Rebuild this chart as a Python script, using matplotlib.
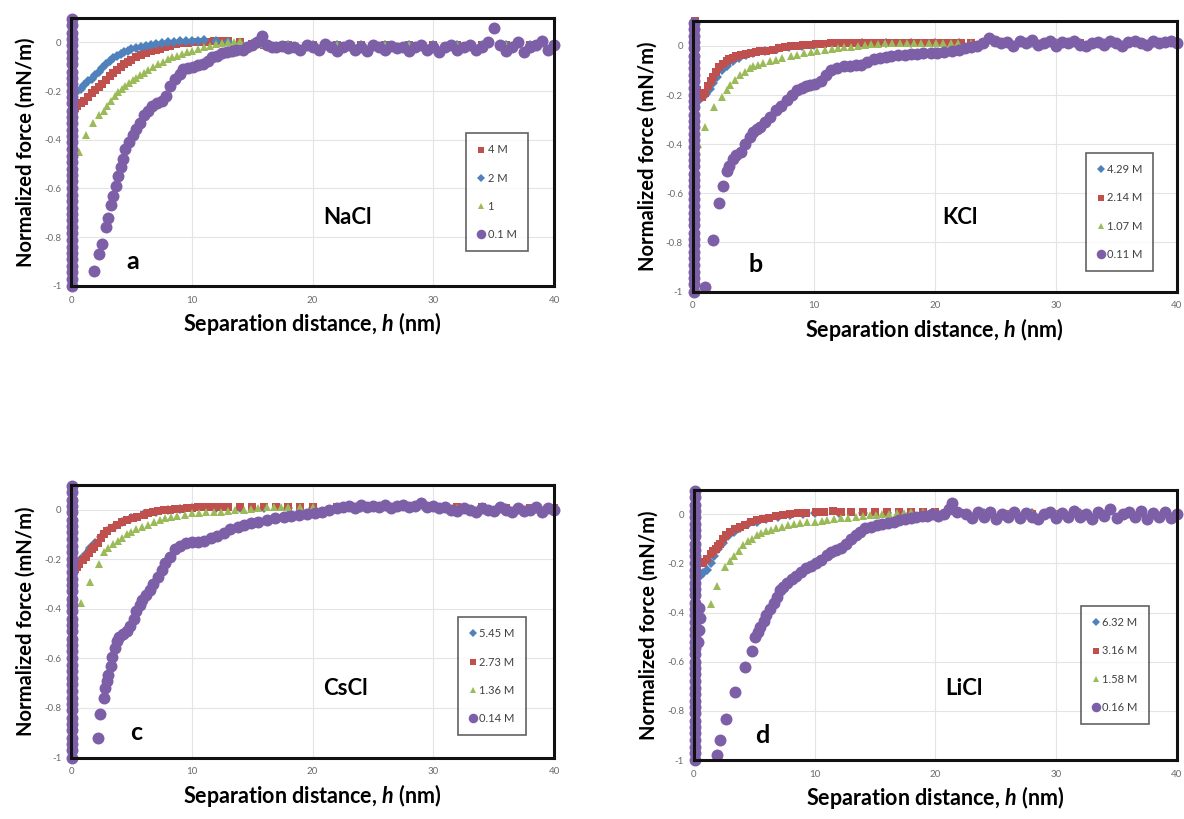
import numpy as np
import matplotlib
matplotlib.use("Agg")
import matplotlib.pyplot as plt

plt.rcParams['font.family'] = ['Lato', 'DejaVu Sans']
plt.rcParams['axes.unicode_minus'] = False
plt.rcParams['mathtext.fontset'] = 'custom'
plt.rcParams['mathtext.it'] = 'Lato:italic:bold'
plt.rcParams['mathtext.rm'] = 'Lato:bold'

PURPLE = '#7d5fa8'
RED = '#c0504d'
BLUE = '#4f81bd'
GREEN = '#9bbb59'

# purple points piled up at contact (h ~ 0), same in every panel
wall_f = [-1.0, -0.97, -0.945, -0.92, -0.89, -0.865, -0.84, -0.81, -0.785, -0.76,
          -0.73, -0.705, -0.68, -0.65, -0.625, -0.6, -0.57, -0.545, -0.52, -0.49,
          -0.465, -0.44, -0.41, -0.385, -0.36, -0.33, -0.305, -0.28, -0.25, -0.225,
          -0.2, -0.17, -0.145, -0.12, -0.09, -0.065, -0.04, -0.01, 0.015, 0.04,
          0.07, 0.095]
wall_h = 0.1

# ---------------- a: NaCl ----------------
a_labels = ['4 M', '2 M', '1', '0.1 M']
a_red_h = [0.3, 0.5, 0.8, 1.1, 1.4, 1.7, 2.0, 2.3, 2.6, 2.9, 3.2, 3.5, 3.8, 4.1, 4.4, 4.7, 5.0, 5.4, 5.8, 6.2,
           6.6, 7.0, 7.4, 7.8, 8.2, 8.7, 9.2, 9.7, 10.2, 10.7, 11.2, 11.8, 12.4, 13.0, 14, 15, 16, 18, 20, 22,
           24, 26, 28, 30, 32, 34, 36, 38, 40]
a_red_f = [-0.27, -0.26, -0.25, -0.24, -0.225, -0.21, -0.195, -0.185, -0.17, -0.155,
           -0.14, -0.125, -0.112, -0.10, -0.09, -0.08, -0.072, -0.062, -0.052, -0.044,
           -0.037, -0.031, -0.026, -0.02, -0.014, -0.008, -0.004, -0.001, 0.0, 0.002,
           0.003, 0.004, 0.005, 0.005, 0.0, -0.005, -0.01, -0.01, -0.01, -0.01,
           -0.01, -0.01, -0.01, -0.01, -0.01, -0.01, -0.01, -0.01, -0.01]
a_blue_h = [0.3, 0.5, 0.8, 1.1, 1.4, 1.7, 2.0, 2.3, 2.6, 2.9, 3.2, 3.5, 3.8, 4.1, 4.4, 4.7, 5.0, 5.4, 5.8, 6.2,
            6.6, 7.0, 7.5, 8.0, 8.5, 9.0, 9.5, 10.0, 10.5, 11.0, 12, 13, 14, 16, 18, 20, 22, 24, 26, 28,
            30, 32, 34, 36, 38, 40]
a_blue_f = [-0.21, -0.20, -0.19, -0.175, -0.16, -0.15, -0.135, -0.12, -0.105, -0.09,
            -0.075, -0.065, -0.055, -0.046, -0.04, -0.034, -0.029, -0.024, -0.018, -0.013,
            -0.009, -0.006, -0.003, 0.0, 0.002, 0.004, 0.005, 0.006, 0.007, 0.008,
            0.006, 0.0, -0.005, -0.01, -0.01, -0.01, -0.01, -0.01, -0.01, -0.01,
            -0.01, -0.01, -0.01, -0.01, -0.01, -0.01]
a_green_h = [0.7, 1.2, 1.8, 2.3, 2.7, 3.0, 3.3, 3.6, 3.9, 4.2, 4.5, 4.8, 5.1, 5.4, 5.7, 6.0, 6.4, 6.8, 7.2, 7.6,
             8.0, 8.4, 8.8, 9.2, 9.6, 10.0, 10.5, 11.0, 11.5, 12.0, 12.5, 13.0, 13.5, 14.0, 15, 16, 18, 20, 22, 24,
             26, 28, 30, 32, 34, 36, 38, 40]
a_green_f = [-0.45, -0.38, -0.33, -0.30, -0.28, -0.26, -0.24, -0.22, -0.205, -0.19,
             -0.18, -0.165, -0.155, -0.145, -0.135, -0.125, -0.115, -0.10, -0.09, -0.08,
             -0.07, -0.062, -0.055, -0.048, -0.04, -0.035, -0.028, -0.02, -0.015, -0.008,
             -0.003, 0.0, 0.003, 0.005, 0.0, -0.005, -0.01, -0.01, -0.01, -0.01,
             -0.01, -0.01, -0.01, -0.01, -0.01, -0.01, -0.01, -0.01]
a_purple_h = [1.9, 2.3, 2.6, 2.9, 3.1, 3.3, 3.5, 3.7, 3.9, 4.1, 4.3, 4.5, 4.8, 5.1, 5.4, 5.7, 6.0, 6.4, 6.7, 7.1,
              7.5, 7.9, 8.2, 8.6, 9.0, 9.3, 9.7, 10.1, 10.5, 10.9, 11.3, 11.7, 12.1, 12.5, 12.9, 13.3, 13.7, 14.2, 14.6, 15.0,
              15.4, 15.8, 16.2, 16.6, 17.0,
              17.5, 18, 18.5, 19, 19.5, 20, 20.5, 21, 21.5, 22, 22.5, 23, 23.5, 24, 24.5, 25, 25.5, 26, 26.5, 27,
              27.5, 28, 28.5, 29, 29.5, 30, 30.5, 31, 31.5, 32, 32.5, 33, 33.5, 34, 34.5, 35, 35.5, 36, 36.5, 37,
              37.5, 38, 38.5, 39, 39.5, 40]
a_purple_f = [-0.94, -0.87, -0.83, -0.76, -0.72, -0.67, -0.63, -0.59, -0.55, -0.51,
              -0.48, -0.44, -0.41, -0.38, -0.355, -0.33, -0.30, -0.28, -0.26, -0.25,
              -0.24, -0.22, -0.18, -0.15, -0.13, -0.11, -0.105, -0.10, -0.095, -0.09,
              -0.075, -0.06, -0.055, -0.045, -0.04, -0.035, -0.03, -0.03, -0.02, -0.01,
              0.0, 0.025, -0.01, -0.02, -0.02,
              -0.015, -0.025, -0.02, -0.03, -0.01, -0.02, -0.03, -0.005, -0.02, -0.035,
              -0.02, -0.01, -0.03, -0.02, -0.035, -0.01, -0.02, -0.03, -0.015, -0.025,
              -0.02, -0.035, -0.02, -0.01, -0.03, -0.02, -0.04, -0.02, -0.01, -0.03,
              -0.02, -0.01, -0.03, -0.02, 0.0, 0.06, -0.01, -0.035, -0.02, 0.0,
              -0.04, -0.02, -0.01, 0.005, -0.03, -0.01]

# ---------------- b: KCl ----------------
b_labels = ['4.29 M', '2.14 M', '1.07 M', '0.11 M']
b_blue_h = [0.5, 0.8, 1.1, 1.4, 1.7, 2.0, 2.4, 2.8, 3.3, 3.8, 4.4, 5.0, 6, 7, 8, 9, 10, 12, 14, 16,
            18, 20, 22, 24, 26, 28, 30, 32, 34, 36, 38, 40]
b_blue_f = [-0.22, -0.21, -0.195, -0.175, -0.15, -0.125, -0.10, -0.08, -0.062, -0.05,
            -0.038, -0.03, -0.02, -0.012, -0.005, 0.0, 0.005, 0.008, 0.01, 0.01,
            0.01, 0.01, 0.01, 0.01, 0.01, 0.01, 0.01, 0.01, 0.01, 0.01, 0.01, 0.01]
b_red_h = [0.2, 0.2, 0.2, 0.2, 0.3, 0.4, 0.6, 0.8, 1.0, 1.25, 1.5, 1.7, 1.95, 2.2, 2.5, 2.8, 3.0, 3.3, 3.6, 4.0,
           4.4, 4.8, 5.2, 5.6, 6.1, 6.6, 7.1, 7.6, 8.1, 8.6, 9.1, 9.6, 10.2, 10.8, 11.4, 12.0, 12.6, 13.2, 13.8, 14.4,
           15.0, 15.6, 16.2, 16.8, 17.4, 18.0, 18.6, 19.2, 19.8, 20.4, 21.0, 21.6, 22.2, 23, 24, 26, 28, 30, 32, 34,
           36, 38, 40]
b_red_f = [0.1, 0.05, 0.0, -0.05, -0.12, -0.18, -0.20, -0.21, -0.19, -0.165,
           -0.145, -0.125, -0.105, -0.085, -0.075, -0.062, -0.055, -0.048, -0.043, -0.036,
           -0.032, -0.028, -0.025, -0.022, -0.02, -0.015, -0.01, -0.006, -0.002, 0.0,
           0.003, 0.005, 0.008, 0.009, 0.01, 0.01, 0.012, 0.01, 0.012, 0.01,
           0.012, 0.01, 0.012, 0.01, 0.012, 0.01, 0.012, 0.01, 0.012, 0.01,
           0.012, 0.01, 0.012, 0.01, 0.01, 0.01, 0.01, 0.01, 0.01, 0.01,
           0.01, 0.01, 0.01]
b_green_h = [0.45, 1.0, 1.8, 2.4, 2.8, 3.1, 3.5, 3.9, 4.3, 4.7, 5.0, 5.4, 5.8, 6.4, 6.9, 7.4, 8.1, 8.6, 9.2, 9.8,
             10.3, 10.9, 11.5, 12.0, 12.5, 13.1, 13.7, 14.2, 14.7, 15.3, 15.9, 16.5, 17.1, 17.7, 18.3, 18.9, 19.5, 20.1, 20.7, 21.3,
             21.9, 23, 24, 26, 28, 30, 32, 34, 36, 38, 40]
b_green_f = [-0.40, -0.33, -0.25, -0.21, -0.18, -0.16, -0.14, -0.12, -0.105, -0.092,
             -0.083, -0.076, -0.07, -0.062, -0.056, -0.05, -0.04, -0.036, -0.03, -0.025,
             -0.02, -0.016, -0.012, -0.008, -0.006, -0.003, 0.0, 0.003, 0.006, 0.008,
             0.01, 0.012, 0.012, 0.012, 0.012, 0.012, 0.012, 0.012, 0.012, 0.012,
             0.012, 0.012, 0.012, 0.01, 0.01, 0.01, 0.01, 0.01, 0.01, 0.01, 0.01]
b_purple_h = [1.0, 1.7, 2.2, 2.5, 2.8, 3.0, 3.3, 3.6, 4.0, 4.3, 4.7, 5.0, 5.3, 5.6, 6.0, 6.4, 6.9, 7.3, 7.8, 8.2,
              8.6, 9.0, 9.4, 9.7, 10.1, 10.6, 11.0, 11.4, 11.9, 12.5, 13.0, 13.5, 13.9, 14.4, 15.0, 15.5, 16.0, 16.4, 17.0, 17.5,
              18.0, 18.5, 19.0, 19.7, 20.2, 20.8, 21.4, 22.0, 22.5, 23.0, 23.5, 24.0, 24.5,
              25, 25.5, 26, 26.5, 27, 27.5, 28, 28.5, 29, 29.5, 30, 30.5, 31, 31.5, 32, 32.5, 33, 33.5, 34, 34.5,
              35, 35.5, 36, 36.5, 37, 37.5, 38, 38.5, 39, 39.5, 40]
b_purple_f = [-0.98, -0.79, -0.64, -0.57, -0.51, -0.49, -0.46, -0.445, -0.43, -0.40,
              -0.37, -0.35, -0.34, -0.33, -0.31, -0.29, -0.26, -0.245, -0.22, -0.20,
              -0.18, -0.17, -0.165, -0.16, -0.155, -0.145, -0.12, -0.10, -0.09, -0.08,
              -0.08, -0.077, -0.076, -0.066, -0.055, -0.05, -0.045, -0.04, -0.038, -0.036,
              -0.035, -0.033, -0.03, -0.03, -0.028, -0.025, -0.02, -0.015, -0.008, -0.005,
              0.0, 0.01, 0.03,
              0.02, 0.01, 0.015, 0.0, 0.02, 0.01, 0.025, 0.005, 0.01, 0.02,
              0.0, 0.015, 0.01, 0.02, 0.005, 0.0, 0.01, 0.015, 0.005, 0.02,
              0.01, 0.0, 0.015, 0.02, 0.01, 0.005, 0.02, 0.01, 0.015, 0.02, 0.01]

# ---------------- c: CsCl ----------------
c_labels = ['5.45 M', '2.73 M', '1.36 M', '0.14 M']
c_blue_h = [0.4, 0.8, 1.2, 1.6, 2.0, 2.5, 3.0, 3.6, 4.2, 5.0, 6.0, 7.0, 8.0, 9.0, 10, 12, 14, 16, 18, 20,
            24, 28, 32, 36, 40]
c_blue_f = [-0.22, -0.2, -0.18, -0.155, -0.135, -0.11, -0.085, -0.065, -0.048, -0.033,
            -0.018, -0.008, -0.002, 0.003, 0.006, 0.008, 0.008, 0.008, 0.008, 0.008,
            0.008, 0.008, 0.005, 0.005, 0.005]
c_red_h = [0.3, 0.5, 0.7, 0.95, 1.2, 1.45, 1.7, 1.9, 2.2, 2.5, 2.7, 3.0, 3.4, 3.8, 4.2, 4.6, 5.1, 5.5, 6.0, 6.4,
           6.8, 7.2, 7.7, 8.2, 8.6, 9.1, 9.6, 10.0, 10.5, 11.0, 11.5, 12.0, 12.5, 13, 14, 15, 16, 17, 18, 19,
           20, 22, 24, 26, 28, 30, 32, 34, 36, 38, 40]
c_red_f = [-0.24, -0.23, -0.22, -0.205, -0.19, -0.175, -0.16, -0.15, -0.135, -0.115,
           -0.10, -0.088, -0.075, -0.06, -0.05, -0.043, -0.035, -0.028, -0.02, -0.015,
           -0.01, -0.006, -0.003, 0.0, 0.002, 0.004, 0.006, 0.008, 0.01, 0.01,
           0.01, 0.012, 0.01, 0.012, 0.01, 0.012, 0.01, 0.012, 0.01, 0.01,
           0.01, 0.01, 0.01, 0.01, 0.01, 0.01, 0.01, 0.01, 0.005, 0.005, 0.005]
c_green_h = [0.8, 1.6, 2.3, 2.7, 3.1, 3.5, 3.9, 4.2, 4.6, 5.0, 5.4, 5.9, 6.4, 6.9, 7.4, 7.8, 8.3, 8.8, 9.4, 10.0,
             10.6, 11.2, 11.8, 12.4, 13.0, 13.6, 14.3, 14.9, 15.5, 16.2, 16.8, 17.4, 18.0, 19, 20, 22, 24, 26, 28, 30,
             32, 34, 36, 38, 40]
c_green_f = [-0.375, -0.29, -0.22, -0.17, -0.155, -0.14, -0.125, -0.115, -0.10, -0.09,
             -0.08, -0.07, -0.06, -0.05, -0.042, -0.035, -0.03, -0.025, -0.02, -0.015,
             -0.013, -0.011, -0.01, -0.008, -0.005, -0.002, 0.0, 0.003, 0.006, 0.01,
             0.012, 0.012, 0.012, 0.01, 0.01, 0.01, 0.01, 0.01, 0.01, 0.01,
             0.005, 0.005, 0.005, 0.005, 0.005]
c_purple_h = [2.2, 2.4, 2.7, 2.8, 3.0, 3.1, 3.3, 3.4, 3.6, 3.8, 4.0, 4.3, 4.6, 4.9, 5.2, 5.4, 5.7, 5.9, 6.2, 6.5,
              6.8, 7.2, 7.5, 7.8, 8.2, 8.6, 9.0, 9.5, 10.0, 10.5, 11.0, 11.6, 12.1, 12.7, 13.2, 13.8, 14.3, 14.9, 15.5, 16.2,
              16.9, 17.6, 18.2, 18.9, 19.5, 20.2, 20.8, 21.4, 22.0,
              22.5, 23, 23.5, 24, 24.5, 25, 25.5, 26, 26.5, 27, 27.5, 28, 28.5, 29, 29.5, 30, 30.5, 31, 31.5, 32,
              32.5, 33, 33.5, 34, 34.5, 35, 35.5, 36, 36.5, 37, 37.5, 38, 38.5, 39, 39.5, 40]
c_purple_f = [-0.92, -0.825, -0.76, -0.72, -0.69, -0.665, -0.63, -0.595, -0.56, -0.53,
              -0.515, -0.50, -0.49, -0.47, -0.44, -0.41, -0.385, -0.365, -0.345, -0.325,
              -0.30, -0.27, -0.245, -0.215, -0.19, -0.16, -0.145, -0.135, -0.13, -0.13,
              -0.125, -0.115, -0.105, -0.095, -0.08, -0.068, -0.06, -0.055, -0.05, -0.04,
              -0.035, -0.03, -0.025, -0.02, -0.018, -0.015, -0.008, 0.0, 0.005,
              0.01, 0.015, 0.005, 0.02, 0.01, 0.015, 0.01, 0.02, 0.005, 0.015,
              0.02, 0.01, 0.015, 0.025, 0.01, 0.015, 0.005, 0.01, 0.0, -0.005,
              0.005, 0.0, -0.01, 0.005, 0.0, -0.005, 0.01, 0.0, -0.01, 0.005,
              -0.005, 0.0, 0.01, -0.01, 0.005, 0.0]

# ---------------- d: LiCl ----------------
d_labels = ['6.32 M', '3.16 M', '1.58 M', '0.16 M']
d_blue_h = [0.3, 0.5, 0.8, 1.1, 1.4, 1.7, 2.0, 2.4, 2.8, 3.3, 3.8, 4.5, 5.2, 6, 7, 8, 9, 10, 12, 14,
            16, 18, 20, 24, 28, 32, 36, 40]
d_blue_f = [-0.26, -0.25, -0.24, -0.225, -0.2, -0.17, -0.14, -0.115, -0.09, -0.07,
            -0.055, -0.04, -0.03, -0.02, -0.01, -0.004, 0.0, 0.004, 0.006, 0.006,
            0.006, 0.006, 0.006, 0.006, 0.006, 0.006, 0.006, 0.006]
d_red_h = [0.3, 0.55, 0.8, 1.1, 1.4, 1.6, 1.8, 2.0, 2.2, 2.45, 2.7, 3.0, 3.4, 3.8, 4.2, 4.7, 5.2, 5.7, 6.2, 6.8,
           7.4, 8.0, 8.6, 9.3, 10.1, 10.8, 11.5, 12.2, 13, 14, 15, 16, 17, 18, 19, 20, 22, 24, 26, 28,
           30, 32, 34, 36, 38, 40]
d_red_f = [-0.21, -0.195, -0.2, -0.18, -0.16, -0.15, -0.14, -0.13, -0.12, -0.1,
           -0.085, -0.073, -0.06, -0.05, -0.042, -0.033, -0.025, -0.019, -0.014, -0.008,
           -0.003, 0.0, 0.004, 0.007, 0.01, 0.01, 0.012, 0.01, 0.01, 0.01,
           0.01, 0.01, 0.01, 0.01, 0.01, 0.01, 0.005, 0.0, 0.0, 0.0,
           0.0, 0.0, 0.0, 0.0, 0.0, 0.0]
d_green_h = [1.4, 1.9, 2.6, 3.0, 3.3, 3.7, 4.1, 4.5, 4.8, 5.2, 5.6, 6.0, 6.4, 6.8, 7.3, 7.8, 8.3, 8.8, 9.4, 10.0,
             10.6, 11.0, 11.6, 12.2, 12.8, 13.4, 14.0, 14.6, 15.1, 15.6, 16.2, 16.8, 17.4, 18.0, 19, 20, 22, 24, 26, 28,
             30, 32, 34, 36, 38, 40]
d_green_f = [-0.365, -0.29, -0.215, -0.19, -0.17, -0.15, -0.125, -0.11, -0.1, -0.085,
             -0.075, -0.068, -0.062, -0.055, -0.05, -0.045, -0.04, -0.037, -0.033, -0.03,
             -0.027, -0.023, -0.02, -0.016, -0.013, -0.01, -0.007, -0.004, -0.002, 0.0,
             0.003, 0.005, 0.007, 0.008, 0.008, 0.008, 0.004, 0.0, 0.0, 0.0,
             0.0, 0.0, 0.0, 0.0, 0.0, 0.0]
d_purple_h = [0.4, 0.5, 0.45, 0.35,
              1.9, 2.2, 2.7, 3.4, 4.2, 4.8, 5.1, 5.3, 5.5, 5.8, 6.0, 6.3, 6.6, 6.9, 7.1, 7.4, 7.7, 8.1, 8.5, 8.9,
              9.3, 9.7, 10.1, 10.5, 11.0, 11.4, 11.8, 12.2, 12.6, 13.0, 13.4, 13.8, 14.2, 14.7, 15.2, 15.6, 16.1, 16.6, 17.0, 17.5,
              18.0, 18.4, 18.9, 19.3, 19.7, 20.2, 20.7, 21.1, 21.4, 21.8,
              22.5, 23, 23.5, 24, 24.5, 25, 25.5, 26, 26.5, 27, 27.5, 28, 28.5, 29, 29.5, 30, 30.5, 31, 31.5, 32,
              32.5, 33, 33.5, 34, 34.5, 35, 35.5, 36, 36.5, 37, 37.5, 38, 38.5, 39, 39.5, 40]
d_purple_f = [-0.38, -0.42, -0.47, -0.52,
              -0.98, -0.92, -0.835, -0.725, -0.62, -0.555, -0.50, -0.48, -0.46, -0.435,
              -0.41, -0.385, -0.36, -0.335, -0.31, -0.295, -0.28, -0.265, -0.25, -0.235,
              -0.22, -0.21, -0.20, -0.185, -0.165, -0.155, -0.145, -0.135, -0.12, -0.10,
              -0.085, -0.07, -0.057, -0.05, -0.044, -0.04, -0.035, -0.03, -0.025, -0.02,
              -0.015, -0.01, -0.008, -0.005, 0.0, -0.005, 0.0, 0.02, 0.045, 0.01,
              0.0, -0.015, 0.01, -0.01, 0.01, -0.02, 0.0, -0.01, 0.01, -0.015,
              0.005, -0.01, -0.02, 0.0, 0.01, -0.015, 0.005, -0.01, 0.015, -0.01,
              0.0, -0.02, 0.01, -0.005, 0.02, -0.015, 0.0, 0.01, -0.01, 0.015,
              -0.02, 0.005, -0.01, 0.01, -0.015, 0.0]


def purple_with_wall(h, f):
    return [wall_h] * len(wall_f) + list(h), list(wall_f) + list(f)


def draw_panel(ax, series, salt, letter, salt_xy, letter_xy, leg_box):
    ax.set_xlim(0, 40)
    ax.set_ylim(-1, 0.1)
    ax.set_xticks([0, 10, 20, 30, 40])
    ax.set_yticks([-1, -0.8, -0.6, -0.4, -0.2, 0])
    ax.set_yticklabels(['-1', '-0.8', '-0.6', '-0.4', '-0.2', '0'])
    ax.grid(True, color='#e4e4e4', lw=0.8)
    ax.set_axisbelow(True)
    ax.tick_params(length=0, labelsize=7, colors='#6a6a6a', pad=7)
    for sp in ax.spines.values():
        sp.set_linewidth(2.2)
        sp.set_color('#111111')

    for h, f, lab, col, mk, ms in series:
        ax.plot(h, f, ls='none', marker=mk, ms=ms, color=col, mew=0,
                label=lab, clip_on=False)

    leg = ax.legend(loc='upper left', bbox_to_anchor=leg_box, fontsize=8,
                    labelspacing=1.55, handlelength=0.7, handletextpad=0.2,
                    borderpad=1.0, frameon=True, fancybox=False,
                    edgecolor='#3a3a3a', numpoints=1, markerscale=0.8)
    leg.get_frame().set_linewidth(1.2)
    for t in leg.get_texts():
        t.set_color('#404040')

    ax.text(*salt_xy, salt, fontsize=16, fontweight='bold', ha='center', va='center')
    ax.text(*letter_xy, letter, fontsize=18, fontweight='bold', ha='center', va='center')
    ax.set_xlabel(r'Separation distance, $h$ (nm)', fontsize=15.5, fontweight='bold', labelpad=4)
    ax.set_ylabel('Normalized force (mN/m)', fontsize=14.5, fontweight='bold', labelpad=6)


fig = plt.figure(figsize=(11.84, 8.19), dpi=100)

ax_a = fig.add_axes([0.060, 0.651, 0.408, 0.327])
ax_b = fig.add_axes([0.585, 0.644, 0.409, 0.330])
ax_c = fig.add_axes([0.060, 0.075, 0.408, 0.333])
ax_d = fig.add_axes([0.586, 0.072, 0.408, 0.330])

ap_h, ap_f = purple_with_wall(a_purple_h, a_purple_f)
draw_panel(ax_a, [
    (a_red_h, a_red_f, a_labels[0], RED, 's', 5.3),
    (a_blue_h, a_blue_f, a_labels[1], BLUE, 'D', 4.8),
    (a_green_h, a_green_f, a_labels[2], GREEN, '^', 6.2),
    (ap_h, ap_f, a_labels[3], PURPLE, 'o', 8.6),
], 'NaCl', 'a', (22.9, -0.72), (5.1, -0.9), (0.807, 0.59))

bp_h, bp_f = purple_with_wall(b_purple_h, b_purple_f)
draw_panel(ax_b, [
    (b_blue_h, b_blue_f, b_labels[0], BLUE, 'D', 4.8),
    (b_red_h, b_red_f, b_labels[1], RED, 's', 5.3),
    (b_green_h, b_green_f, b_labels[2], GREEN, '^', 6.2),
    (bp_h, bp_f, b_labels[3], PURPLE, 'o', 8.6),
], 'KCl', 'b', (22.1, -0.70), (5.2, -0.89), (0.80, 0.533))

cp_h, cp_f = purple_with_wall(c_purple_h, c_purple_f)
draw_panel(ax_c, [
    (c_blue_h, c_blue_f, c_labels[0], BLUE, 'D', 4.8),
    (c_red_h, c_red_f, c_labels[1], RED, 's', 5.3),
    (c_green_h, c_green_f, c_labels[2], GREEN, '^', 6.2),
    (cp_h, cp_f, c_labels[3], PURPLE, 'o', 8.6),
], 'CsCl', 'c', (22.7, -0.72), (5.4, -0.9), (0.79, 0.535))

dp_h, dp_f = purple_with_wall(d_purple_h, d_purple_f)
draw_panel(ax_d, [
    (d_blue_h, d_blue_f, d_labels[0], BLUE, 'D', 4.8),
    (d_red_h, d_red_f, d_labels[1], RED, 's', 5.3),
    (d_green_h, d_green_f, d_labels[2], GREEN, '^', 6.2),
    (dp_h, dp_f, d_labels[3], PURPLE, 'o', 8.6),
], 'LiCl', 'd', (22.4, -0.71), (5.7, -0.9), (0.79, 0.59))

fig.savefig('out.png', dpi=100)
